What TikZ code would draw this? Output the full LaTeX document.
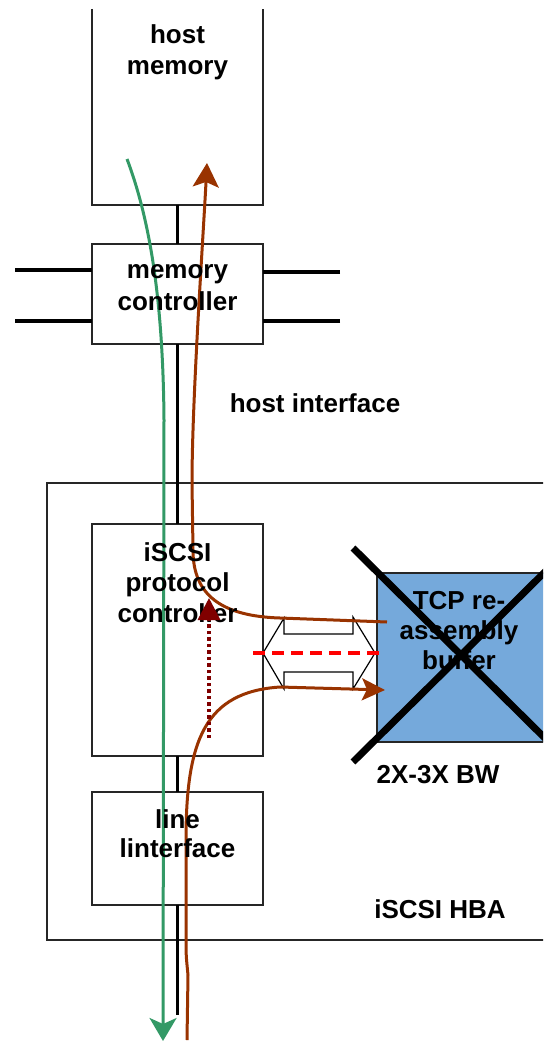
\documentclass[tikz,border=0pt]{standalone}
\usepackage{fontspec}
\setmainfont{Liberation Sans}
\usetikzlibrary{arrows.meta}
\definecolor{flowbrown}{RGB}{153,51,0}
\definecolor{flowgreen}{RGB}{51,153,102}
\definecolor{dotred}{RGB}{128,0,0}
\definecolor{bufblue}{RGB}{117,169,219}
\begin{document}
\begin{tikzpicture}[x=1pt,y=-1pt,
  box/.style={draw=black!85, line width=1.3pt, fill=white, inner sep=0pt, outer sep=0pt, rectangle},
  openbox/.style={inner sep=0pt, outer sep=0pt, rectangle},
  boxline/.style={draw=black!85, line width=1.3pt},
  bus/.style={line width=3.5pt, black},
  lbl/.style={font=\fontsize{26}{31}\selectfont\bfseries, inner sep=0pt, anchor=base},
  xline/.style={line width=7pt, black},
  brownflow/.style={flowbrown, line width=3pt},
  greenflow/.style={flowgreen, line width=3pt},
  hollowarrow/.style={draw=black, line width=1.2pt, fill=white, line join=miter},
]
\useasboundingbox (0,0) rectangle (543,1043);
\clip (0,0) rectangle (543,1043);

% boxes
\node[box, minimum width=553pt, minimum height=457pt] (hba) at (323.5,711.5) {};
\node[openbox, minimum width=171pt, minimum height=196pt] (hostmem) at (177.5,107) {};
\draw[boxline] (hostmem.north west) -- (hostmem.south west) -- (hostmem.south east) -- (hostmem.north east);
\node[box, minimum width=171pt, minimum height=100pt] (memctl) at (177.5,294) {};
\node[box, minimum width=171pt, minimum height=232pt] (protoc) at (177.5,640) {};
\node[box, minimum width=171pt, minimum height=113pt] (lineif) at (177.5,848.5) {};

% bus lines
\coordinate (busend) at (177.5,1015);
\draw[bus] (hostmem.south) -- (memctl.north);
\draw[bus] (memctl.south) -- (protoc.north);
\draw[bus] (protoc.south) -- (lineif.north);
\draw[bus] (lineif.south) -- (busend);

% side lines of memory controller
\coordinate (ml1) at (15,270);
\coordinate (ml2) at (15,321);
\coordinate (mr1) at (340,272);
\coordinate (mr2) at (340,321);
\draw[bus] (ml1) -- (ml1 -| memctl.west);
\draw[bus] (ml2) -- (ml2 -| memctl.west);
\draw[bus] (mr1) -- (mr1 -| memctl.east);
\draw[bus] (mr2) -- (mr2 -| memctl.east);

% hollow double arrow
\draw[hollowarrow] (263,653) -- (284,618) -- (284,634) -- (353,634) -- (353,617)
  -- (375,653) -- (353,689) -- (353,672) -- (284,672) -- (284,689) -- cycle;

% TCP buffer
\node[box, fill=bufblue, minimum width=169pt, minimum height=169pt] (tcp) at (461.5,657.5) {};

% flows
\coordinate (greenstart) at (127,159);
\coordinate (greenend) at (163,1041);
\draw[greenflow, -{Stealth[length=23pt,width=27pt,inset=6pt]}]
  (greenstart) .. controls (150,220) and (163,300) .. (164,420) -- (greenend);

\coordinate (tcpout) at (387,622);
\coordinate (memin) at (207,163);
\draw[brownflow, -{Stealth[length=24pt,width=26pt,inset=5pt]}]
  (tcpout) -- (280,618) .. controls (215,616) and (193,590) .. (193,550)
  -- (192,483) .. controls (192,400) and (203,240) .. (memin);

\coordinate (linein) at (187,1040);
\coordinate (tcpin) at (385,690);
\draw[brownflow, -{Stealth[length=23pt,width=22pt,inset=5pt]}]
  (linein) -- (188,975) .. controls (186,955) .. (186,935) -- (186,840)
  .. controls (186,740) and (205,692) .. (280,687) -- (tcpin);

% labels
\node[lbl] (hm1) at (177.5,44) {host};
\node[lbl] (hm2) at (177.5,75) {memory};
\node[lbl] (mc1) at (177.5,278) {memory};
\node[lbl] (mc2) at (177.5,310) {controller};
\node[lbl] (hi) at (315,412) {host interface};
\node[lbl] (pc1) at (177.5,561) {iSCSI};
\node[lbl] (pc2) at (177.5,591) {protocol};
\node[lbl] (pc3) at (177.5,622) {controller};
\node[lbl] (tc1) at (459,609) {TCP re-};
\node[lbl] (tc2) at (459,639) {assembly};
\node[lbl] (tc3) at (459,669) {buffer};
\node[lbl] (bw) at (438,783) {2X-3X BW};
\node[lbl] (hbal) at (440,918) {iSCSI HBA};
\node[lbl] (li1) at (177.5,828) {line};
\node[lbl] (li2) at (177.5,857) {linterface};

% cross over the buffer
\draw[xline] (353,548) -- (569,762);
\draw[xline] (353,762) -- (569,548);

% dotted arrow
\coordinate (dt1) at (209,738);
\coordinate (dt2) at (209,598);
\draw[dotred, line width=3.5pt, dash pattern=on 3.5pt off 3pt, -{Triangle[length=22pt,width=22pt]}] (dt1) -- (dt2);

% red dashed line
\coordinate (rd1) at (253,653);
\coordinate (rd2) at (380,653);
\draw[red, line width=3.5pt, dash pattern=on 12pt off 7pt] (rd1) -- (rd2);
\end{tikzpicture}
\end{document}
